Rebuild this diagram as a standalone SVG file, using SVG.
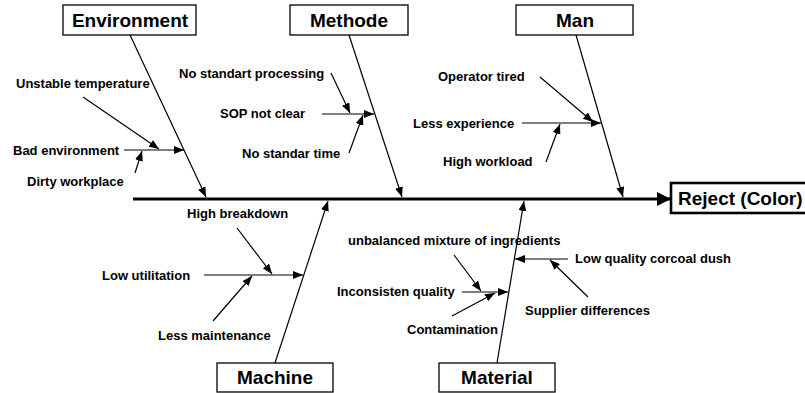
<svg xmlns="http://www.w3.org/2000/svg" width="805" height="393" viewBox="0 0 805 393">
  <style>
    .box { fill: #fff; stroke: #000; stroke-width: 1.3; }
    .head { font-family: "Liberation Sans", Arial, sans-serif; font-weight: bold; font-size: 19px; fill: #000; text-anchor: middle; }
    .lbl { font-family: "Liberation Sans", Arial, sans-serif; font-weight: bold; font-size: 13px; fill: #000; }
    .bone { stroke: #000; stroke-width: 1.2; fill: none; marker-end: url(#tip); }
    .spine { stroke: #000; stroke-width: 3.2; fill: none; marker-end: url(#bigtip); }
  </style>
  <defs>
    <marker id="tip" markerUnits="userSpaceOnUse" markerWidth="10" markerHeight="8" refX="10" refY="4" orient="auto">
      <path d="M0,0 L10,4 L0,8 z" fill="#000"/>
    </marker>
    <marker id="bigtip" markerUnits="userSpaceOnUse" markerWidth="14" markerHeight="14" refX="14" refY="7" orient="auto">
      <path d="M0,0 L14,7 L0,14 z" fill="#000"/>
    </marker>
  </defs>
  <rect width="805" height="393" fill="#fff"/>

  <g id="connectors">
    <!-- spine -->
    <line class="spine" x1="133" y1="199" x2="671" y2="199"/>
    <!-- main bones -->
    <line class="bone" x1="130" y1="35" x2="206" y2="197"/>
    <line class="bone" x1="349" y1="35" x2="402" y2="197"/>
    <line class="bone" x1="576" y1="35" x2="623" y2="197"/>
    <line class="bone" x1="275" y1="363" x2="328" y2="201"/>
    <line class="bone" x1="497" y1="363" x2="524" y2="201"/>
    <!-- Environment causes -->
    <line class="bone" x1="124" y1="150" x2="184" y2="150"/>
    <line class="bone" x1="83" y1="97" x2="159" y2="149"/>
    <line class="bone" x1="135" y1="173" x2="142" y2="151"/>
    <!-- Methode causes -->
    <line class="bone" x1="322" y1="114" x2="374" y2="114"/>
    <line class="bone" x1="331" y1="73" x2="350" y2="113"/>
    <line class="bone" x1="349" y1="153" x2="363" y2="115"/>
    <!-- Man causes -->
    <line class="bone" x1="522" y1="123" x2="601" y2="123"/>
    <line class="bone" x1="540" y1="77" x2="593" y2="122"/>
    <line class="bone" x1="546" y1="162" x2="560" y2="124"/>
    <!-- Machine causes -->
    <line class="bone" x1="204" y1="275" x2="303" y2="275"/>
    <line class="bone" x1="237" y1="228" x2="272" y2="274"/>
    <line class="bone" x1="213" y1="321" x2="252" y2="276"/>
    <!-- Material causes -->
    <line class="bone" x1="462" y1="292" x2="508" y2="292"/>
    <line class="bone" x1="454" y1="255" x2="481" y2="291"/>
    <line class="bone" x1="452" y1="316" x2="495" y2="293"/>
    <line class="bone" x1="568" y1="259" x2="515" y2="259"/>
    <line class="bone" x1="588" y1="297" x2="550" y2="260"/>
  </g>

  <g id="effect">
    <rect x="671" y="183" width="150" height="30" fill="#fff" stroke="#000" stroke-width="2.6"/>
    <text x="678" y="205" class="head" style="text-anchor:start">Reject (Color)</text>
  </g>

  <g id="environment">
    <rect class="box" x="63" y="5" width="133" height="30"/>
    <text class="head" x="130" y="27">Environment</text>
    <text class="lbl" x="16" y="88">Unstable temperature</text>
    <text class="lbl" x="13" y="155">Bad environment</text>
    <text class="lbl" x="27" y="186">Dirty workplace</text>
  </g>

  <g id="methode">
    <rect class="box" x="290" y="5" width="118" height="30"/>
    <text class="head" x="349" y="27">Methode</text>
    <text class="lbl" x="179" y="78">No standart processing</text>
    <text class="lbl" x="220" y="118">SOP not clear</text>
    <text class="lbl" x="242" y="158">No standar time</text>
  </g>

  <g id="man">
    <rect class="box" x="516" y="5" width="117" height="30"/>
    <text class="head" x="575" y="27">Man</text>
    <text class="lbl" x="438" y="81">Operator tired</text>
    <text class="lbl" x="413" y="128">Less experience</text>
    <text class="lbl" x="443" y="166">High workload</text>
  </g>

  <g id="machine">
    <rect class="box" x="217" y="363" width="116" height="29"/>
    <text class="head" x="275" y="384">Machine</text>
    <text class="lbl" x="187" y="218">High breakdown</text>
    <text class="lbl" x="102" y="280">Low utilitation</text>
    <text class="lbl" x="158" y="340">Less maintenance</text>
  </g>

  <g id="material">
    <rect class="box" x="439" y="363" width="116" height="29"/>
    <text class="head" x="497" y="384">Material</text>
    <text class="lbl" x="348" y="245">unbalanced mixture of ingredients</text>
    <text class="lbl" x="337" y="296">Inconsisten quality</text>
    <text class="lbl" x="407" y="334">Contamination</text>
    <text class="lbl" x="575" y="263">Low quality corcoal dush</text>
    <text class="lbl" x="525" y="315">Supplier differences</text>
  </g>
</svg>
